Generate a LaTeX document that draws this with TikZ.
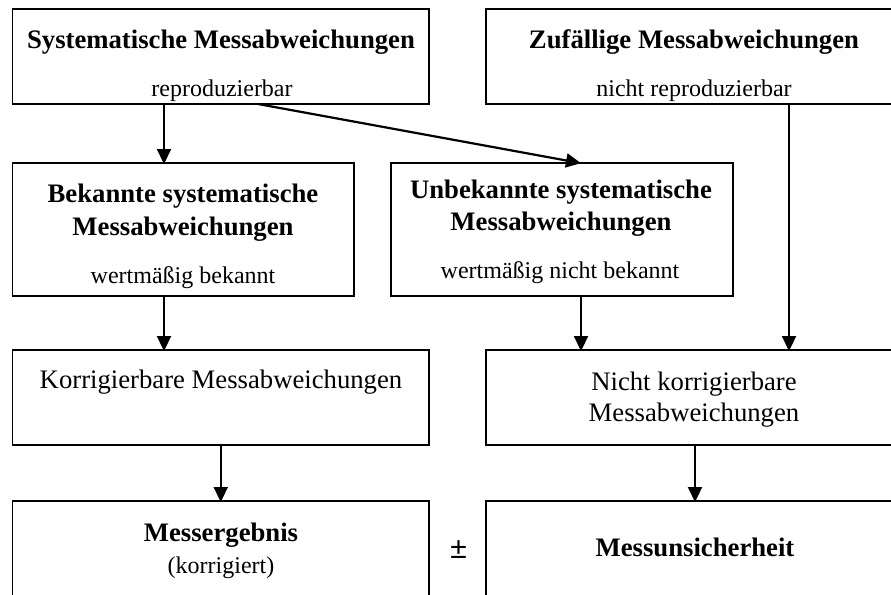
\documentclass[tikz,border=0pt]{standalone}
\usepackage{fontspec}
\setmainfont{Liberation Serif}
\newfontfamily\pmfont{Liberation Sans}
\usetikzlibrary{arrows.meta}
\tikzset{
  x=1pt, y=1pt,
  box/.style={draw, line width=1.6pt, inner sep=0pt, outer sep=0pt, anchor=north west},
  ttl/.style={font=\fontsize{26.7}{32}\selectfont\bfseries, anchor=base, inner sep=0pt},
  reg/.style={font=\fontsize{26.7}{32}\selectfont, anchor=base, inner sep=0pt},
  sub/.style={font=\fontsize{24}{28}\selectfont, anchor=base, inner sep=0pt},
  arr/.style={line width=2.2pt, -{Triangle[width=14pt,length=15pt]}, shorten >=-1pt}
}
\begin{document}
\begin{tikzpicture}
\clip (0,0) rectangle (891,-594);
% boxes
\node[box, minimum width=416.5pt, minimum height=95pt] (sys) at (12.5,-9) {};
\node[box, minimum width=440pt, minimum height=95pt] (zuf) at (485.7,-9) {};
\node[box, minimum width=341.5pt, minimum height=133pt] (bek) at (12.5,-163) {};
\node[box, minimum width=341.7pt, minimum height=133pt] (unb) at (391,-163) {};
\node[box, minimum width=416.5pt, minimum height=95pt] (kor) at (12.5,-350) {};
\node[box, minimum width=440pt, minimum height=95pt] (nkor) at (485.7,-350) {};
\node[box, minimum width=416.5pt, minimum height=130pt] (erg) at (12.5,-501) {};
\node[box, minimum width=440pt, minimum height=130pt] (uns) at (485.7,-501) {};
% texts
\node[ttl] (t1) at (221,-48.3) {Systematische Messabweichungen};
\node[sub] (s1) at (222,-96.5) {reproduzierbar};
\node[ttl] (t2) at (694,-48.8) {Zufällige Messabweichungen};
\node[sub] (s2) at (694,-96.8) {nicht reproduzierbar};
\node[ttl] (t3a) at (183,-202.7) {Bekannte systematische};
\node[ttl] (t3b) at (183,-235) {Messabweichungen};
\node[sub] (s3) at (183,-283) {wertmäßig bekannt};
\node[ttl] (t4a) at (561,-198) {Unbekannte systematische};
\node[ttl] (t4b) at (561,-230) {Messabweichungen};
\node[sub] (s4) at (560,-278) {wertmäßig nicht bekannt};
\node[reg] (t5) at (221,-388) {Korrigierbare Messabweichungen};
\node[reg] (t6a) at (694,-390) {Nicht korrigierbare};
\node[reg] (t6b) at (694,-421.7) {Messabweichungen};
\node[ttl] (t7) at (221,-541.7) {Messergebnis};
\node[sub] (s7) at (221,-573) {(korrigiert)};
\node[ttl] (t8) at (695,-556.7) {Messunsicherheit};
\node[font=\fontsize{30}{34}\pmfont, anchor=base, inner sep=0pt] (pm) at (458.5,-558) {±};
% connectors
\draw[arr] ([xshift=151.5pt]sys.south west) -- ([xshift=151.5pt]bek.north west);
\draw[arr] ([xshift=245.5pt]sys.south west) -- ([xshift=189pt]unb.north west);
\draw[arr] ([xshift=303.3pt]zuf.south west) -- ([xshift=303.3pt]nkor.north west);
\draw[arr] ([xshift=190pt]unb.south west) -- ([xshift=95.3pt]nkor.north west);
\draw[arr] ([xshift=151.5pt]bek.south west) -- ([xshift=151.5pt]kor.north west);
\draw[arr] (kor.south) -- (erg.north);
\draw[arr] ([xshift=209.3pt]nkor.south west) -- ([xshift=209.3pt]uns.north west);
\end{tikzpicture}
\end{document}
